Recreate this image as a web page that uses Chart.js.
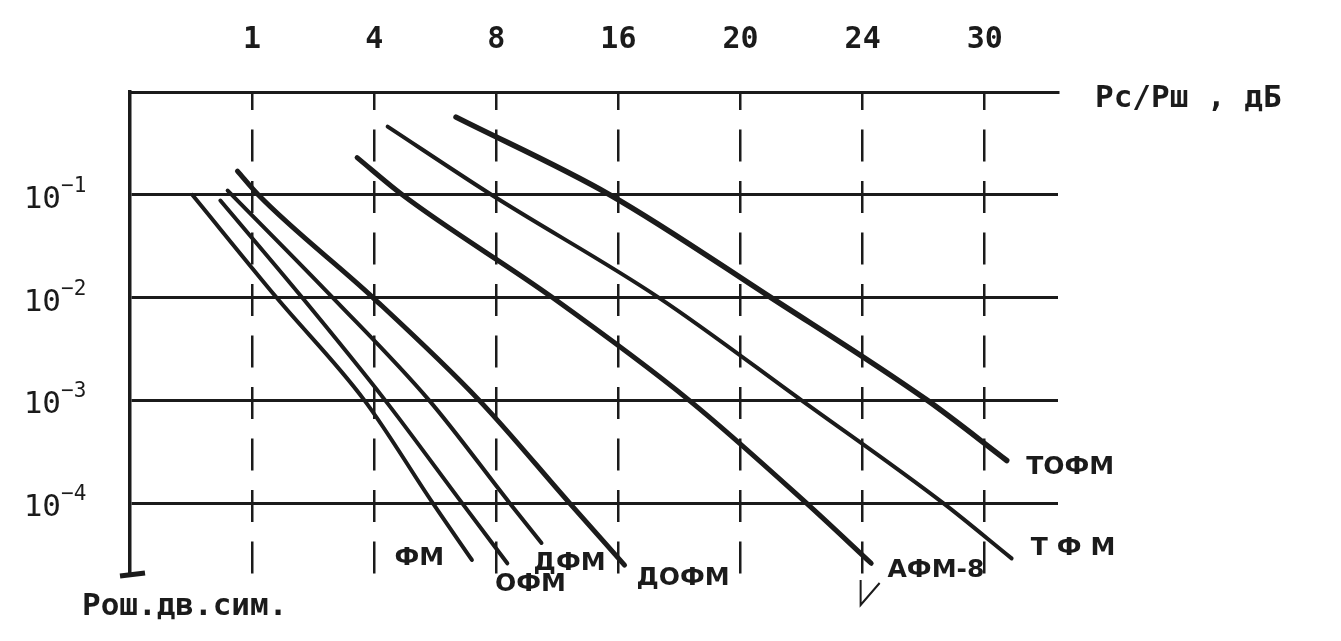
<!DOCTYPE html>
<html>
<head>
<meta charset="utf-8">
<script src="https://cdn.jsdelivr.net/npm/chart.js@4.4.0/dist/chart.umd.min.js"></script>
<style>
  html, body { margin: 0; padding: 0; background: #fff; }
  #wrap { width: 1341px; height: 641px; }
</style>
</head>
<body>
<div id="wrap"><canvas id="berChart"></canvas></div>
<script>
// dashed verticals (grid units) and what is written over them, dB
const xTickPos = [1, 2, 3, 4, 5, 6, 7];
const xTickLabels = ['1', '4', '8', '16', '20', '24', '30'];
// solid horizontals, decades of Pош
const yGridValues = [1, 1e-1, 1e-2, 1e-3, 1e-4];
const yLabelValues = [1e-1, 1e-2, 1e-3, 1e-4];
const yLabelExp = ['\u22121', '\u22122', '\u22123', '\u22124'];

const seriesNames = ['ФМ', 'ОФМ', 'ДФМ', 'ДОФМ', 'АФМ-8', 'ТФМ', 'ТОФМ'];

// curves: x in grid units, y = Pош
const fmX    = [0.51, 1.20, 1.92, 2.48, 2.80];
const fmY    = [1e-1, 1e-2, 1e-3, 1e-4, 2.8e-5];
const ofmX   = [0.74, 1.41, 2.09, 2.72, 3.09];
const ofmY   = [8.8e-2, 1e-2, 1e-3, 1e-4, 2.6e-5];
const dfmX   = [0.80, 1.66, 2.45, 3.11, 3.37];
const dfmY   = [1.1e-1, 1e-2, 1e-3, 1e-4, 4.1e-5];
const dofmX  = [0.88, 1.05, 1.99, 2.86, 3.60, 4.05];
const dofmY  = [1.7e-1, 1e-1, 1e-2, 1e-3, 1e-4, 2.5e-5];
const afm8X  = [1.86, 2.23, 3.46, 4.58, 5.54, 6.07];
const afm8Y  = [2.3e-1, 1e-1, 1e-2, 1e-3, 1e-4, 2.6e-5];
const tfmX   = [2.11, 2.96, 4.33, 5.50, 6.66, 7.22];
const tfmY   = [4.6e-1, 1e-1, 1e-2, 1e-3, 1e-4, 2.9e-5];
const tofmX  = [2.67, 3.93, 5.25, 6.53, 7.18];
const tofmY  = [5.7e-1, 1e-1, 1e-2, 1e-3, 2.6e-4];

const ink = '#1b1b1b';

// where each curve name is written (chart units), same order as seriesNames
const nameAt = [
  [2.37, 2.9e-5], [3.28, 1.6e-5], [3.60, 2.6e-5], [4.53, 1.85e-5],
  [6.60, 2.2e-5], [7.76, 3.6e-5], [7.70, 2.2e-4]
];

const seriesXY = [[fmX, fmY], [ofmX, ofmY], [dfmX, dfmY], [dofmX, dofmY],
                  [afm8X, afm8Y], [tfmX, tfmY], [tofmX, tofmY]];
const widths = [4, 4, 4, 5, 5, 4, 5.5];

const datasets = seriesXY.map(([xs, ys], i) => ({
  label: seriesNames[i],
  data: xs.map((x, k) => ({ x: x, y: ys[k] })),
  borderColor: ink,
  borderWidth: widths[i],
  borderCapStyle: 'round',
  borderJoinStyle: 'round',
  pointRadius: 0,
  fill: false,
  cubicInterpolationMode: 'monotone',
}));

const decor = {
  id: 'decor',
  afterDraw(chart) {
    const { ctx, chartArea: ca, scales: { x, y } } = chart;
    ctx.save();
    ctx.fillStyle = ink;
    ctx.strokeStyle = ink;

    // 10^-n on the left
    yLabelValues.forEach((v, i) => {
      const py = y.getPixelForValue(v);
      ctx.font = '31px "DejaVu Sans Mono"';
      ctx.textAlign = 'right';
      ctx.textBaseline = 'alphabetic';
      ctx.fillText('10', 61, py + 13);
      ctx.font = '21px "DejaVu Sans Mono"';
      ctx.textAlign = 'left';
      ctx.fillText(yLabelExp[i], 61, py - 3);
    });

    // curve names
    ctx.font = 'bold 25px "DejaVu Sans"';
    ctx.textAlign = 'center';
    ctx.textBaseline = 'middle';
    seriesNames.forEach((name, i) => {
      const px = x.getPixelForValue(nameAt[i][0]);
      const py = y.getPixelForValue(nameAt[i][1]);
      ctx.letterSpacing = name === 'ТФМ' ? '9px' : '0px';
      ctx.fillText(name, px, py);
    });
    ctx.letterSpacing = '0px';

    // little pointer under АФМ-8
    const ax = x.getPixelForValue(6.0), ay = y.getPixelForValue(2e-5);
    ctx.lineWidth = 2;
    ctx.beginPath();
    ctx.moveTo(ax - 2, ay + 5);
    ctx.lineTo(ax - 2, ay + 30);
    ctx.lineTo(ax + 17, ay + 8);
    ctx.stroke();

    // axis titles
    ctx.font = 'bold 31px "DejaVu Sans Mono"';
    ctx.textAlign = 'left';
    ctx.fillText('Рс/Рш , дБ', ca.right + 37, ca.top + 7);
    ctx.fillText('Рош.дв.сим.', 82, ca.bottom + 32);

    // foot of the vertical axis
    ctx.lineWidth = 5;
    ctx.beginPath();
    ctx.moveTo(ca.left - 10, ca.bottom + 1);
    ctx.lineTo(ca.left + 15, ca.bottom - 2);
    ctx.stroke();
    ctx.restore();
  }
};

new Chart(document.getElementById('berChart').getContext('2d'), {
  type: 'line',
  data: { datasets },
  options: {
    responsive: true,
    maintainAspectRatio: false,
    animation: false,
    layout: { padding: { left: 0, top: 0, right: 283, bottom: 66 } },
    plugins: { legend: { display: false }, tooltip: { enabled: false } },
    scales: {
      x: {
        type: 'linear',
        position: 'top',
        min: 0,
        max: 7.6,
        afterBuildTicks: (s) => { s.ticks = xTickPos.map(v => ({ value: v })); },
        afterFit: (s) => { s.height = 92; },
        grid: { color: ink, lineWidth: 2.5, drawTicks: false },
        border: { display: true, color: ink, width: 3, dash: [32, 19.5], dashOffset: 16 },
        ticks: {
          color: ink,
          padding: 34,
          font: { family: '"DejaVu Sans Mono"', size: 30, weight: 'bold' },
          callback: (v, i) => xTickLabels[i],
        },
      },
      y: {
        type: 'logarithmic',
        min: 2e-5,
        max: 1,
        afterBuildTicks: (s) => { s.ticks = yGridValues.map(v => ({ value: v })); },
        afterFit: (s) => { s.width = 130; },
        grid: { color: ink, lineWidth: 3, drawTicks: false },
        border: { display: true, color: ink, width: 3.5 },
        ticks: { display: false },
      },
    },
  },
  plugins: [decor],
});
</script>
</body>
</html>
